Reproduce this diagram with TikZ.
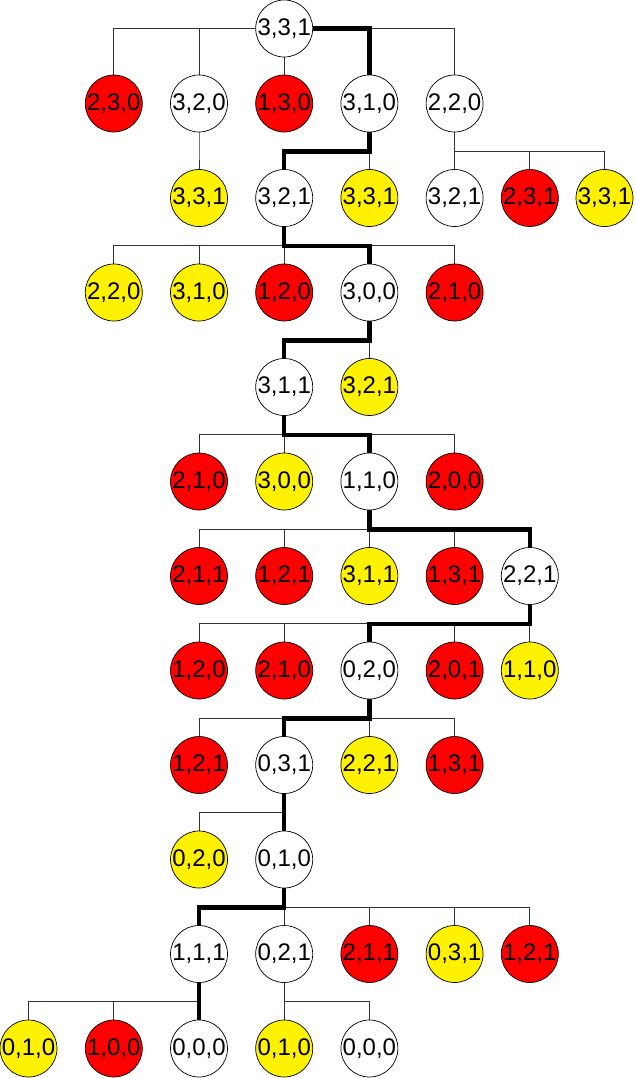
\documentclass[tikz,border=0pt]{standalone}
\usepackage{fontspec}
\setmainfont{Liberation Sans}
\usetikzlibrary{backgrounds}
\begin{document}
\begin{tikzpicture}[x=1pt,y=-1pt,
  st/.style={circle,draw=black,line width=0.7pt,minimum size=57pt,inner sep=0pt,font=\fontsize{24}{24}\selectfont},
  wn/.style={st,fill=white},
  rn/.style={st,fill=red},
  yn/.style={st,fill=yellow},
  ln/.style={draw=black!80,line width=0.9pt},
  pathln/.style={draw=black,line width=4.5pt}]
\useasboundingbox (0,0) rectangle (634,1078);
% row 0
\node[wn] (n0) at (284.2,28.5) {3,3,1};
% row 1
\node[rn] (n1a) at (113.8,103.5) {2,3,0};
\node[wn] (n1b) at (199,103.5) {3,2,0};
\node[rn] (n1c) at (284.2,103.5) {1,3,0};
\node[wn] (n1d) at (369.4,103.5) {3,1,0};
\node[wn] (n1e) at (454.6,103.5) {2,2,0};
% row 2
\node[yn] (n2a) at (199,198) {3,3,1};
\node[wn] (n2b) at (284.2,198) {3,2,1};
\node[yn] (n2c) at (369.4,198) {3,3,1};
\node[wn] (n2d) at (454.6,198) {3,2,1};
\node[rn] (n2e) at (529.8,198) {2,3,1};
\node[yn] (n2f) at (604.5,198) {3,3,1};
% row 3
\node[yn] (n3a) at (113.8,292.5) {2,2,0};
\node[yn] (n3b) at (199,292.5) {3,1,0};
\node[rn] (n3c) at (284.2,292.5) {1,2,0};
\node[wn] (n3d) at (369.4,292.5) {3,0,0};
\node[rn] (n3e) at (454.6,292.5) {2,1,0};
% row 4
\node[wn] (n4a) at (284.2,387) {3,1,1};
\node[yn] (n4b) at (369.4,387) {3,2,1};
% row 5
\node[rn] (n5a) at (199,481.5) {2,1,0};
\node[yn] (n5b) at (284.2,481.5) {3,0,0};
\node[wn] (n5c) at (369.4,481.5) {1,1,0};
\node[rn] (n5d) at (454.6,481.5) {2,0,0};
% row 6
\node[rn] (n6a) at (199,576) {2,1,1};
\node[rn] (n6b) at (284.2,576) {1,2,1};
\node[yn] (n6c) at (369.4,576) {3,1,1};
\node[rn] (n6d) at (454.6,576) {1,3,1};
\node[wn] (n6e) at (529.8,576) {2,2,1};
% row 7
\node[rn] (n7a) at (199,670.5) {1,2,0};
\node[rn] (n7b) at (284.2,670.5) {2,1,0};
\node[wn] (n7c) at (369.4,670.5) {0,2,0};
\node[rn] (n7d) at (454.6,670.5) {2,0,1};
\node[yn] (n7e) at (529.8,670.5) {1,1,0};
% row 8
\node[rn] (n8a) at (199,765) {1,2,1};
\node[wn] (n8b) at (284.2,765) {0,3,1};
\node[yn] (n8c) at (369.4,765) {2,2,1};
\node[rn] (n8d) at (454.6,765) {1,3,1};
% row 9
\node[yn] (n9a) at (199,859.5) {0,2,0};
\node[wn] (n9b) at (284.2,859.5) {0,1,0};
% row 10
\node[wn] (n10a) at (199,954) {1,1,1};
\node[wn] (n10b) at (284.2,954) {0,2,1};
\node[rn] (n10c) at (369.4,954) {2,1,1};
\node[yn] (n10d) at (454.6,954) {0,3,1};
\node[rn] (n10e) at (529.8,954) {1,2,1};
% row 11
\node[yn] (n11a) at (28.5,1048.5) {0,1,0};
\node[rn] (n11b) at (113.8,1048.5) {1,0,0};
\node[wn] (n11c) at (199,1048.5) {0,0,0};
\node[yn] (n11d) at (284.2,1048.5) {0,1,0};
\node[wn] (n11e) at (369.4,1048.5) {0,0,0};

\begin{scope}[on background layer]
  % root connectors
  \draw[ln] (n0.west) -| (n1a.north);
  \draw[ln] (n0.west) -| (n1b.north);
  \draw[ln] (n0.south) -- (n1c.north);
  \draw[ln] (n0.east) -| (n1d.north);
  \draw[ln] (n0.east) -| (n1e.north);
  % other connectors
  \foreach \p/\c in {n1b/n2a, n1d/n2b, n1d/n2c, n1e/n2d, n1e/n2e, n1e/n2f,
      n2b/n3a, n2b/n3b, n2b/n3c, n2b/n3d, n2b/n3e,
      n3d/n4a, n3d/n4b,
      n4a/n5a, n4a/n5b, n4a/n5c, n4a/n5d,
      n5c/n6a, n5c/n6b, n5c/n6c, n5c/n6d, n5c/n6e,
      n6e/n7a, n6e/n7b, n6e/n7c, n6e/n7d, n6e/n7e,
      n7c/n8a, n7c/n8b, n7c/n8c, n7c/n8d,
      n8b/n9a, n8b/n9b,
      n9b/n10a, n9b/n10b, n9b/n10c, n9b/n10d, n9b/n10e,
      n10a/n11a, n10a/n11b, n10a/n11c,
      n10b/n11d, n10b/n11e}
    \draw[ln] (\p.south) -- ++(0,19) -| (\c.north);
  % highlighted path
  \draw[pathln] (n0.east) -| (n1d.north);
  \foreach \p/\c in {n1d/n2b, n2b/n3d, n3d/n4a, n4a/n5c, n5c/n6e, n6e/n7c,
      n7c/n8b, n8b/n9b, n9b/n10a, n10a/n11c}
    \draw[pathln] (\p.south) -- ++(0,19) -| (\c.north);
\end{scope}
\end{tikzpicture}
\end{document}
